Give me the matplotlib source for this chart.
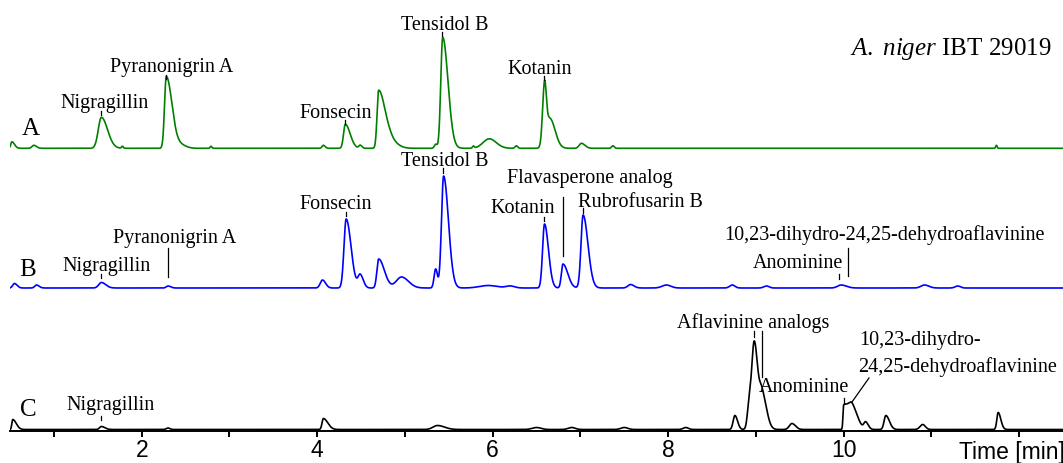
import matplotlib
matplotlib.use('Agg')
import matplotlib.pyplot as plt
import numpy as np

# peak tables: retention time [min], height, left/right width
rt_A = [0.52, 0.77, 1.54, 1.78, 2.28, 2.45, 2.79, 4.07, 4.32, 4.49, 4.70, 4.84, 5.35, 5.43, 5.78, 5.96, 6.27, 6.59, 6.65, 7.01, 7.37, 11.74]
h_A = [6.5, 3, 31, 2, 72, 3, 2, 3, 24, 3, 58, 6, 4, 111, 2, 9.5, 2.5, 58, 30, 5, 2.5, 3]
sl_A = [0.012, 0.02, 0.035, 0.01, 0.02, 0.05, 0.01, 0.015, 0.02, 0.015, 0.018, 0.05, 0.015, 0.022, 0.01, 0.07, 0.015, 0.022, 0.04, 0.025, 0.015, 0.008]
sr_A = [0.03, 0.03, 0.07, 0.01, 0.065, 0.06, 0.01, 0.02, 0.055, 0.02, 0.075, 0.08, 0.015, 0.06, 0.01, 0.08, 0.015, 0.02, 0.06, 0.04, 0.015, 0.008]

rt_B = [0.55, 0.80, 1.54, 2.30, 4.06, 4.33, 4.49, 4.70, 4.96, 5.35, 5.44, 5.95, 6.20, 6.59, 6.80, 7.03, 7.57, 7.98, 8.73, 9.12, 9.97, 10.92, 11.3]
h_B = [4.5, 3, 5.5, 2, 8, 69, 13, 29, 11, 19, 112, 2.5, 2, 64, 24, 73, 3.5, 3, 3, 2, 3, 3, 2]
sl_B = [0.02, 0.02, 0.03, 0.02, 0.025, 0.025, 0.025, 0.02, 0.06, 0.018, 0.024, 0.1, 0.05, 0.022, 0.018, 0.024, 0.03, 0.05, 0.03, 0.03, 0.04, 0.04, 0.03]
sr_B = [0.03, 0.03, 0.05, 0.03, 0.035, 0.055, 0.035, 0.065, 0.08, 0.02, 0.055, 0.1, 0.05, 0.045, 0.055, 0.055, 0.04, 0.05, 0.03, 0.03, 0.06, 0.05, 0.03]

rt_C = [0.53, 1.54, 2.30, 4.07, 5.37, 6.50, 6.90, 7.50, 8.20, 8.76, 8.92, 8.98, 9.07, 9.41, 10.00, 10.10, 10.25, 10.48, 10.90, 11.76]
h_C = [10, 3, 1.5, 11, 4, 2, 2, 2, 2, 14, 20, 88, 35, 6, 24, 20, 7, 14, 5, 17]
sl_C = [0.01, 0.02, 0.02, 0.015, 0.05, 0.05, 0.04, 0.04, 0.03, 0.02, 0.02, 0.03, 0.03, 0.03, 0.008, 0.04, 0.02, 0.02, 0.03, 0.015]
sr_C = [0.04, 0.04, 0.02, 0.05, 0.08, 0.05, 0.04, 0.04, 0.03, 0.03, 0.02, 0.04, 0.05, 0.04, 0.06, 0.06, 0.03, 0.04, 0.03, 0.03]

offset_A, offset_B, offset_C = 282.7, 143.0, 1.5


def trace(t, rt, h, sl, sr):
    y = np.zeros_like(t)
    for r, hh, a, b in zip(rt, h, sl, sr):
        s = np.where(t < r, a, b)
        y += hh * np.exp(-0.5 * ((t - r) / s) ** 2)
    return y


plt.rcParams['mathtext.fontset'] = 'custom'
plt.rcParams['mathtext.rm'] = 'Liberation Serif'
plt.rcParams['mathtext.it'] = 'Liberation Serif:italic'

fig = plt.figure(figsize=(10.63, 4.63), dpi=100)
ax = fig.add_axes([10.1 / 1063, 32 / 463, 1053 / 1063, 431 / 463])

t = np.linspace(0.5, 12.5, 4000)
ax.plot(t, offset_A + trace(t, rt_A, h_A, sl_A, sr_A), color='#008000', lw=1.2)
ax.plot(t, offset_B + trace(t, rt_B, h_B, sl_B, sr_B), color='#0000ff', lw=1.2)
ax.plot(t, offset_C + trace(t, rt_C, h_C, sl_C, sr_C), color='black', lw=1.2)

ax.set_xlim(0.5, 12.5)
ax.set_ylim(0, 431)
for s in ['top', 'right', 'left']:
    ax.spines[s].set_visible(False)
ax.spines['bottom'].set_linewidth(1.4)
ax.set_yticks([])
ax.set_xticks(range(1, 13))
ax.set_xticklabels(['', '2', '', '4', '', '6', '', '8', '', '10', '', ''])
ax.tick_params(axis='x', length=4, width=1.4, pad=2, labelsize=16.5)
for lab in ax.get_xticklabels():
    lab.set_fontfamily('Liberation Sans')
fig.text(1065 / 1063, 4 / 463, 'Time [min]', ha='right', va='baseline',
         fontsize=16.5, family='Liberation Sans')

serif = 'Liberation Serif'
fs = 14.5


def label(x, y, s, ha='center'):
    ax.text(x, y, s, ha=ha, va='baseline', fontsize=fs, family=serif)


def mark(x, y0, y1):
    ax.plot([x, x], [y0, y1], color='black', lw=0.9)


# trace letters and strain
ax.text(0.734, 302, 'A', ha='center', va='center', fontsize=18, family=serif)
ax.text(0.70, 161, 'B', ha='center', va='center', fontsize=18, family=serif)
ax.text(0.704, 21.5, 'C', ha='center', va='center', fontsize=18, family=serif)
ax.text(11.22, 376, r'$\mathit{A.\ niger}$ IBT 29019', ha='center', va='baseline',
        fontsize=18, family=serif)

# A labels
label(1.581, 322.7, 'Nigragillin'); mark(1.536, 316, 320)
label(2.345, 359.3, 'Pyranonigrin A'); mark(2.276, 352, 356)
label(4.214, 312.7, 'Fonsecin'); mark(4.316, 307, 311)
label(5.456, 401, 'Tensidol B'); mark(5.422, 395.3, 399.3)
label(6.54, 357, 'Kotanin'); mark(6.587, 351, 355)

# B labels
label(1.604, 160.3, 'Nigragillin'); mark(1.536, 153, 157)
label(2.373, 188.3, 'Pyranonigrin A'); mark(2.303, 154.3, 182.7)
label(4.214, 221.7, 'Fonsecin'); mark(4.328, 215, 219.3)
label(5.456, 265, 'Tensidol B'); mark(5.433, 258.3, 263)
label(7.108, 248, 'Flavasperone analog'); mark(6.80, 175, 234.3)
label(6.345, 217.7, 'Kotanin'); mark(6.584, 210.3, 214.3)
label(7.681, 224.3, 'Rubrofusarin B'); mark(7.028, 218.3, 223)
label(10.459, 191, '10,23-dihydro-24,25-dehydroaflavinine'); mark(10.048, 155, 182.7)
label(9.474, 162.7, 'Anominine'); mark(9.949, 151.7, 157)

# C labels
label(1.65, 21, 'Nigragillin'); mark(1.54, 11, 15)
label(8.966, 103, 'Aflavinine analogs'); mark(8.977, 94, 100.5); mark(9.068, 54, 100.5)
label(10.174, 86, '10,23-dihydro-', ha='left')
label(10.162, 59, '24,25-dehydroaflavinine', ha='left')
label(9.547, 39.3, 'Anominine'); mark(10.003, 28.4, 33)
ax.plot([10.094, 10.288], [29, 53], color='black', lw=0.9)

fig.savefig('out.png', dpi=100)
